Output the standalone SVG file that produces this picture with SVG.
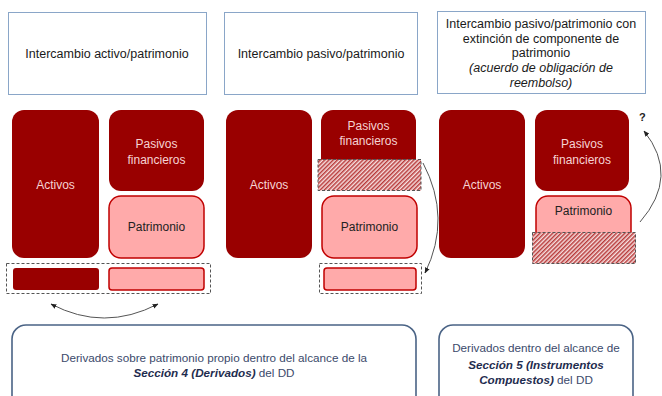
<svg xmlns="http://www.w3.org/2000/svg" width="662" height="396" viewBox="0 0 662 396">
<defs>
<style>
text{font-family:"Liberation Sans",Arial,sans-serif;}
.hdr{fill:#fff;stroke:#8aa6c8;stroke-width:1}
.hdrt{font-size:12.5px;fill:#1a1a1a;text-anchor:middle}
.dark{fill:#990000}
.pink{fill:#ffaaaa;stroke:#c00000;stroke-width:1.5}
.lt{font-size:12px;fill:#f6d3d3;text-anchor:middle}
.pt{font-size:12px;fill:#222;text-anchor:middle}
.dash{fill:none;stroke:#555;stroke-width:1;stroke-dasharray:3,2}
.hatch{fill:url(#hp);stroke:#555;stroke-width:1;stroke-dasharray:3,2}
.conn{fill:none;stroke:#555;stroke-width:1}
.foot{fill:#fff;stroke:#4a6385;stroke-width:1.6}
.ft{font-size:11.7px;fill:#3b4a6b;text-anchor:middle}
.fb{font-weight:bold;font-style:italic;fill:#1f2d4f}
</style>
<pattern id="hp" patternUnits="userSpaceOnUse" width="3" height="3" patternTransform="rotate(45)">
<rect width="3" height="3" fill="#f7e0e0"/>
<rect width="1.5" height="3" fill="#b83a3a"/>
</pattern>
<marker id="ah" viewBox="0 0 10 10" refX="9" refY="5" markerWidth="6" markerHeight="6" orient="auto-start-reverse">
<path d="M0,1 L10,5 L0,9 z" fill="#222"/>
</marker>
</defs>

<g id="header1">
<rect class="hdr" x="8.5" y="12.5" width="198" height="82"/>
<text class="hdrt" x="107" y="58">Intercambio activo/patrimonio</text>
</g>
<g id="header2">
<rect class="hdr" x="224.5" y="12.5" width="193" height="82"/>
<text class="hdrt" x="321" y="58">Intercambio pasivo/patrimonio</text>
</g>
<g id="header3">
<rect class="hdr" x="437.5" y="11.5" width="208" height="82"/>
<text class="hdrt" x="541" y="28">Intercambio pasivo/patrimonio con</text>
<text class="hdrt" x="541" y="43">extinción de componente de</text>
<text class="hdrt" x="541" y="57">patrimonio</text>
<text class="hdrt" x="541" y="72" font-style="italic">(acuerdo de obligación de</text>
<text class="hdrt" x="541" y="87" font-style="italic">reembolso)</text>
</g>

<g id="panel1">
<g id="p1-activos"><rect class="dark" x="12" y="110" width="87" height="148" rx="12"/><text class="lt" x="55.5" y="189">Activos</text></g>
<g id="p1-pasivos"><rect class="dark" x="109" y="110" width="95" height="81" rx="12"/><text class="lt" x="156.5" y="148">Pasivos</text><text class="lt" x="156.5" y="164">financieros</text></g>
<g id="p1-patrimonio"><rect class="pink" x="109" y="196" width="95" height="62" rx="12"/><text class="pt" x="156.5" y="231">Patrimonio</text></g>
<g id="p1-derivados">
<rect class="dash" x="6.5" y="263.5" width="204" height="30"/>
<rect class="dark" x="13" y="268" width="86" height="22" rx="3"/>
<rect class="pink" x="109" y="268" width="95" height="22" rx="3"/>
</g>
</g>

<g id="panel2">
<g id="p2-activos"><rect class="dark" x="226" y="110" width="86" height="148" rx="12"/><text class="lt" x="269" y="189">Activos</text></g>
<g id="p2-pasivos"><path class="dark" d="M321,122 a12,12 0 0 1 12,-12 h71 a12,12 0 0 1 12,12 v43 h-95 z"/><text class="lt" x="368.5" y="130">Pasivos</text><text class="lt" x="368.5" y="145">financieros</text></g>
<g id="p2-hatch"><rect class="hatch" x="318" y="159.5" width="103" height="31"/></g>
<g id="p2-patrimonio"><rect class="pink" x="322" y="196" width="95" height="62" rx="12"/><text class="pt" x="369.5" y="231">Patrimonio</text></g>
<g id="p2-derivados">
<rect class="dash" x="319.5" y="263.5" width="102" height="30"/>
<rect class="pink" x="324" y="268" width="92" height="22" rx="3"/>
</g>
</g>

<g id="panel3">
<g id="p3-activos"><rect class="dark" x="439" y="110" width="86" height="148" rx="12"/><text class="lt" x="482" y="189">Activos</text></g>
<g id="p3-pasivos"><rect class="dark" x="535" y="110" width="94" height="81" rx="12"/><text class="lt" x="582" y="148">Pasivos</text><text class="lt" x="582" y="164">financieros</text></g>
<g id="p3-patrimonio"><path class="pink" d="M536,240 v-32 a12,12 0 0 1 12,-12 h71 a12,12 0 0 1 12,12 v32"/><text class="pt" x="583.5" y="215">Patrimonio</text></g>
<g id="p3-hatch"><rect class="hatch" x="532.5" y="232.5" width="103" height="31"/></g>
<g id="p3-q"><text x="639" y="121" font-size="11px" font-weight="bold" fill="#222">?</text></g>
</g>

<g id="connectors">
<path class="conn" d="M51,304 Q104,332 158,304" marker-start="url(#ah)" marker-end="url(#ah)"/>
<path class="conn" d="M423,163 Q452,218 425,273" marker-end="url(#ah)"/>
<path class="conn" d="M640,222 Q680,176 644,131" marker-end="url(#ah)"/>
</g>

<g id="footer1">
<rect class="foot" x="12" y="325" width="404" height="95" rx="14"/>
<text class="ft" x="214" y="362">Derivados sobre patrimonio propio dentro del alcance de la</text>
<text class="ft" x="214" y="377"><tspan class="fb">Sección 4 (Derivados)</tspan> del DD</text>
</g>
<g id="footer2">
<rect class="foot" x="439" y="325" width="194" height="95" rx="14"/>
<text class="ft" x="536" y="352">Derivados dentro del alcance de</text>
<text class="ft" x="536" y="369"><tspan class="fb">Sección 5 (Instrumentos</tspan></text>
<text class="ft" x="536" y="384"><tspan class="fb">Compuestos)</tspan> del DD</text>
</g>
</svg>
